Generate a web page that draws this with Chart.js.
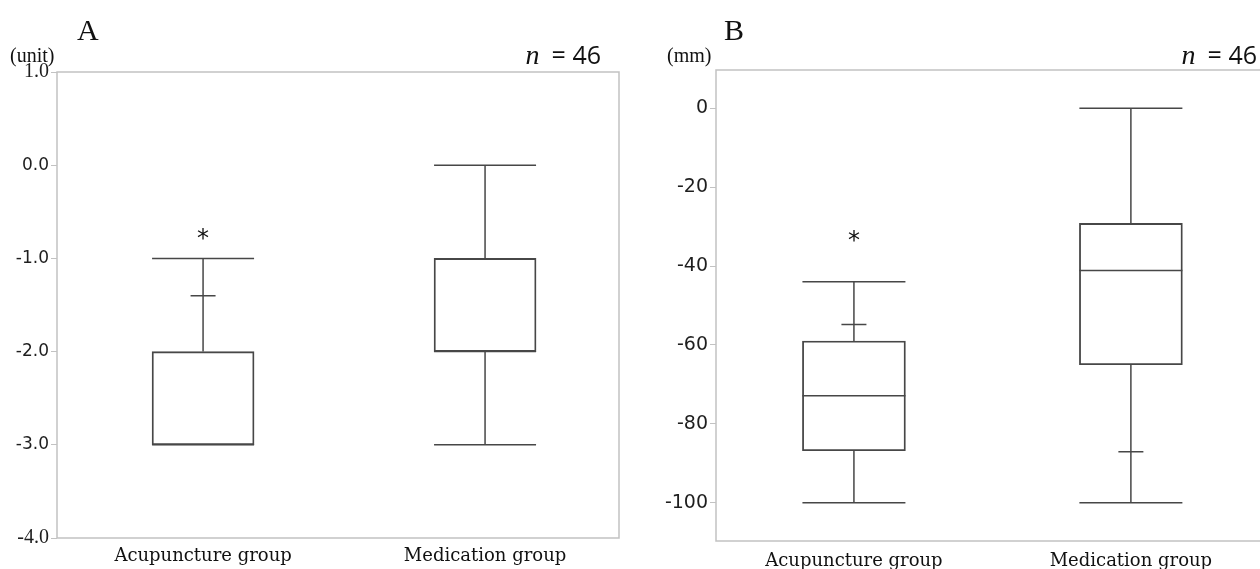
<!DOCTYPE html>
<html>
<head>
<meta charset="utf-8">
<script src="https://cdn.jsdelivr.net/npm/chart.js@4"></script>
<style>
  html, body { margin: 0; padding: 0; background: #fff; overflow: hidden; }
  #wrap { position: relative; width: 1260px; height: 569px; overflow: hidden; }
  #boxA { position: absolute; left: 0; top: 0; }
  #boxB { position: absolute; left: 630px; top: 0; }
</style>
</head>
<body>
<div id="wrap">
  <canvas id="boxA" width="630" height="569"></canvas>
  <canvas id="boxB" width="650" height="569"></canvas>
</div>
<script>
'use strict';

/* ─── data ─── */
var groups = ['Acupuncture group', 'Medication group'];

// panel A (unit)
var aMin  = [-3, -3];
var aQ1   = [-3, -2];
var aMed  = [-3, -2];
var aQ3   = [-2, -1];
var aMax  = [-1, 0];
var aMark = [-1.4, null];
var aStar = [-0.75, null];
var aTicks = [1, 0, -1, -2, -3, -4];

// panel B (mm)
var bMin  = [-100, -100];
var bQ1   = [-86.8, -65];
var bMed  = [-72.9, -41.1];
var bQ3   = [-59, -29.2];
var bMax  = [-44, 0];
var bMark = [-54.8, -87.1];
var bStar = [-32.5, null];
var bTicks = [0, -20, -40, -60, -80, -100];

var LINE = '#474747';
var FRAME = '#c2c2c2';
var SANS = '"DejaVu Sans", sans-serif';
var SERIF = '"DejaVu Serif", serif';

/* ─── whiskers, median, marks, asterisk ─── */
var whiskerPlugin = {
  id: 'whiskers',
  afterDatasetsDraw: function (chart) {
    var o = chart.options.plugins.whiskers;
    var ys = chart.scales.y;
    var bars = chart.getDatasetMeta(0).data;
    var ctx = chart.ctx;
    ctx.save();
    ctx.strokeStyle = LINE;
    ctx.lineWidth = 1.5;
    for (var i = 0; i < bars.length; i++) {
      var cx = bars[i].x;
      var hw = bars[i].width / 2;
      var yLo = ys.getPixelForValue(o.lo[i]);
      var yHi = ys.getPixelForValue(o.hi[i]);
      var yQ1 = ys.getPixelForValue(o.q1[i]);
      var yQ3 = ys.getPixelForValue(o.q3[i]);
      var yMed = ys.getPixelForValue(o.med[i]);
      ctx.beginPath();
      // upper whisker + cap
      ctx.moveTo(cx, yQ3); ctx.lineTo(cx, yHi);
      ctx.moveTo(cx - hw, yHi); ctx.lineTo(cx + hw, yHi);
      // lower whisker + cap
      ctx.moveTo(cx, yQ1); ctx.lineTo(cx, yLo);
      ctx.moveTo(cx - hw, yLo); ctx.lineTo(cx + hw, yLo);
      // median
      ctx.moveTo(cx - hw, yMed); ctx.lineTo(cx + hw, yMed);
      // small mark
      if (o.mark[i] !== null) {
        var yM = ys.getPixelForValue(o.mark[i]);
        ctx.moveTo(cx - 12.5, yM); ctx.lineTo(cx + 12.5, yM);
      }
      ctx.stroke();
      if (o.star[i] !== null) {
        ctx.fillStyle = '#111';
        ctx.font = '24px ' + SANS;
        ctx.textAlign = 'center';
        ctx.textBaseline = 'middle';
        ctx.fillText('*', cx, ys.getPixelForValue(o.star[i]) + 5);
      }
    }
    ctx.restore();
  }
};

/* ─── frame + headings ─── */
var framePlugin = {
  id: 'frame',
  afterDraw: function (chart) {
    var o = chart.options.plugins.frame;
    var a = chart.chartArea;
    var ctx = chart.ctx;
    ctx.save();
    ctx.strokeStyle = FRAME;
    ctx.lineWidth = 1.5;
    ctx.strokeRect(a.left, a.top, a.right - a.left, a.bottom - a.top);

    ctx.fillStyle = '#111';
    ctx.textBaseline = 'alphabetic';
    ctx.textAlign = 'left';
    ctx.font = '30px "Liberation Serif", serif';
    ctx.fillText(o.letter, o.letterX, 40);

    ctx.font = '20px "Liberation Serif", serif';
    ctx.fillText(o.unit, o.unitX, 62);

    // n = 46
    ctx.font = 'italic 28px "Liberation Serif", serif';
    var wN = ctx.measureText('n').width;
    ctx.font = '25px "Open Sans", sans-serif';
    var rest = '= 46';
    var wR = ctx.measureText(rest).width;
    var gap = 12;
    var x0 = o.nRight - wR - wN - gap;
    ctx.font = 'italic 28px "Liberation Serif", serif';
    ctx.fillText('n', x0, 64);
    ctx.font = '25px "Open Sans", sans-serif';
    ctx.fillText(rest, x0 + wN + gap, 64);
    ctx.restore();
  }
};

/* ─── one box plot panel ─── */
function makePanel(canvasId, cfg) {
  var canvas = document.getElementById(canvasId);
  return new Chart(canvas, {
    type: 'bar',
    data: {
      datasets: [{
        data: [
          { x: 0, y: [cfg.q1[0], cfg.q3[0]] },
          { x: 1, y: [cfg.q1[1], cfg.q3[1]] }
        ],
        backgroundColor: 'rgba(0,0,0,0)',
        borderColor: LINE,
        borderWidth: 1.2,
        borderSkipped: false,
        barThickness: cfg.boxWidth
      }]
    },
    options: {
      responsive: false,
      animation: false,
      layout: { padding: cfg.padding },
      plugins: {
        legend: { display: false },
        tooltip: { enabled: false },
        whiskers: { lo: cfg.lo, hi: cfg.hi, q1: cfg.q1, q3: cfg.q3, med: cfg.med, mark: cfg.mark, star: cfg.star },
        frame: cfg.frame
      },
      scales: {
        x: {
          type: 'linear',
          offset: false,
          min: cfg.xMin,
          max: cfg.xMax,
          grid: { display: false, offset: false },
          border: { display: false },
          afterBuildTicks: function (s) { s.ticks = [{ value: 0 }, { value: 1 }]; },
          afterFit: function (s) { s.height = cfg.xHeight; },
          ticks: {
            autoSkip: false,
            maxRotation: 0,
            padding: cfg.xPad,
            color: '#111',
            font: { family: SERIF, size: cfg.xFont },
            callback: function (v) { return groups[v]; }
          }
        },
        y: {
          min: cfg.yMin,
          max: cfg.yMax,
          afterBuildTicks: function (s) {
            s.ticks = cfg.ticks.map(function (v) { return { value: v }; });
          },
          afterFit: function (s) { s.width = cfg.yWidth; },
          grid: { drawOnChartArea: false, color: FRAME, tickLength: 6 },
          border: { display: false },
          ticks: {
            padding: 2,
            color: '#1e1e1e',
            font: cfg.yFont,
            callback: cfg.yLabel
          }
        }
      }
    },
    plugins: [whiskerPlugin, framePlugin]
  });
}

makePanel('boxA', {
  q1: aQ1, q3: aQ3, lo: aMin, hi: aMax, med: aMed, mark: aMark, star: aStar,
  ticks: aTicks, yMin: -4, yMax: 1,
  xMin: -0.518, xMax: 1.475,
  boxWidth: 102,
  padding: { top: 72, right: 11, bottom: 0, left: 0 },
  yWidth: 57, xHeight: 31, xPad: 0, xFont: 18,
  yFont: function (c) {
    var v = c.tick ? c.tick.value : 0;
    if (v === 1 || v === -4) return { family: '"Liberation Serif", serif', size: 20 };
    return { family: SANS, size: 17 };
  },
  yLabel: function (v) { return v.toFixed(1); },
  frame: { letter: 'A', letterX: 77, unit: '(unit)', unitX: 10, nRight: 601 }
});

makePanel('boxB', {
  q1: bQ1, q3: bQ3, lo: bMin, hi: bMax, med: bMed, mark: bMark, star: bStar,
  ticks: bTicks, yMin: -109.7, yMax: 9.7,
  xMin: -0.498, xMax: 1.477,
  boxWidth: 103,
  padding: { top: 70, right: 17, bottom: 0, left: 0 },
  yWidth: 86, xHeight: 28, xPad: 2, xFont: 18,
  yFont: { family: SANS, size: 19 },
  yLabel: function (v) { return String(v); },
  frame: { letter: 'B', letterX: 94, unit: '(mm)', unitX: 37, nRight: 627 }
});
</script>
</body>
</html>
